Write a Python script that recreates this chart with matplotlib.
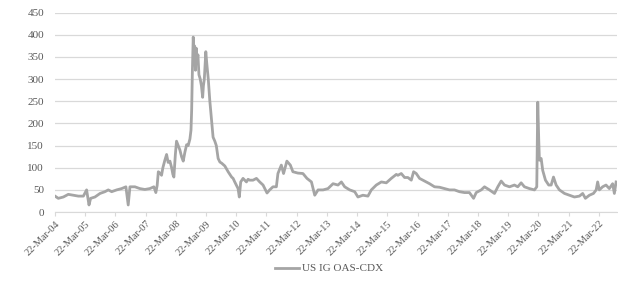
import pandas as pd
import matplotlib
matplotlib.use("Agg")
import matplotlib.pyplot as plt
import matplotlib.dates as mdates

plt.rcParams['font.family'] = ['Liberation Serif', 'DejaVu Serif']

# US IG OAS-CDX, bp
dates = [
    "2004-03-22", "2004-05-01", "2004-07-01", "2004-08-30", "2004-10-30", "2004-12-29",
    "2005-02-28", "2005-04-08", "2005-05-07", "2005-05-27", "2005-07-18", "2005-09-17",
    "2005-11-16", "2005-12-26", "2006-02-05", "2006-04-06", "2006-06-05", "2006-07-27",
    "2006-08-24", "2006-09-14", "2006-11-13", "2007-01-12", "2007-03-13", "2007-05-12",
    "2007-06-30", "2007-07-24", "2007-08-09", "2007-08-23", "2007-09-11", "2007-10-01",
    "2007-10-17", "2007-11-10", "2007-12-01", "2007-12-20", "2008-01-10", "2008-01-31",
    "2008-02-15", "2008-02-27", "2008-03-16", "2008-03-30", "2008-04-19", "2008-05-10",
    "2008-05-30", "2008-06-19", "2008-07-09", "2008-07-30", "2008-08-18", "2008-09-08",
    "2008-09-21", "2008-09-29", "2008-10-08", "2008-10-18", "2008-10-26", "2008-11-04",
    "2008-11-14", "2008-11-23", "2008-12-02", "2008-12-14", "2008-12-26", "2009-01-11",
    "2009-01-25", "2009-02-09", "2009-02-18", "2009-03-01", "2009-03-13", "2009-03-19",
    "2009-03-31", "2009-04-18", "2009-05-06", "2009-05-27", "2009-06-15", "2009-07-06",
    "2009-07-24", "2009-08-15", "2009-09-05", "2009-09-29", "2009-11-04", "2009-12-14",
    "2010-01-25", "2010-02-12", "2010-03-04", "2010-04-13", "2010-04-28", "2010-05-15",
    "2010-06-12", "2010-07-03", "2010-07-23", "2010-08-12", "2010-09-01", "2010-10-11",
    "2010-11-21", "2010-12-31", "2011-02-09", "2011-03-29",
    "2011-04-30", "2011-06-09", "2011-07-20", "2011-08-08", "2011-09-18", "2011-10-15",
    "2011-11-24", "2012-01-05", "2012-02-05", "2012-04-05", "2012-06-05", "2012-07-24",
    "2012-09-16", "2012-10-26", "2012-12-05", "2013-02-04", "2013-04-04", "2013-06-04",
    "2013-08-03", "2013-09-13", "2013-10-23", "2013-12-23", "2014-02-21", "2014-04-01",
    "2014-05-31", "2014-07-31", "2014-09-10", "2014-11-09", "2015-01-09", "2015-03-10",
    "2015-05-09", "2015-07-09", "2015-07-28", "2015-09-07", "2015-10-17", "2015-11-26",
    "2016-01-06", "2016-02-03", "2016-03-06", "2016-04-15", "2016-05-25", "2016-07-05",
    "2016-08-14", "2016-10-13", "2016-12-13", "2017-02-11", "2017-04-12", "2017-06-11",
    "2017-08-10", "2017-10-10", "2017-12-09", "2018-01-28", "2018-03-01", "2018-04-30",
    "2018-06-09", "2018-08-08", "2018-10-08", "2018-11-17", "2018-12-28", "2019-02-06",
    "2019-04-07", "2019-06-06", "2019-07-16", "2019-08-26", "2019-10-05", "2019-12-04",
    "2020-02-03", "2020-03-02", "2020-03-14", "2020-03-26", "2020-04-03", "2020-04-24",
    "2020-05-13", "2020-06-15", "2020-07-24", "2020-08-23", "2020-09-20", "2020-10-22",
    "2020-12-01", "2021-01-31", "2021-04-01", "2021-05-31", "2021-07-30", "2021-09-08",
    "2021-10-11", "2021-11-28", "2022-01-16", "2022-02-18", "2022-03-08", "2022-03-28",
    "2022-05-07", "2022-06-17", "2022-07-27", "2022-09-05", "2022-09-26", "2022-10-17",
]
spread = [
    36, 31, 34, 40, 38, 36,
    36, 50, 16, 31, 34, 42,
    46, 50, 46, 50, 53, 57,
    16, 57, 57, 53, 51, 53,
    57, 44, 60, 91, 88, 83,
    100, 117, 130, 112, 115, 100,
    85, 79, 130, 160, 150, 140,
    125, 115, 135, 152, 150, 165,
    185, 230, 320, 395, 360, 375,
    320, 370, 340, 355, 310, 300,
    285, 259, 285, 300, 340, 362,
    335, 300, 252, 207, 169, 160,
    150, 121, 113, 110, 104, 91,
    79, 76, 68, 53, 34, 68,
    76, 72, 68, 74, 72, 72,
    76, 68, 61, 43,
    50, 57, 57, 87, 106, 87,
    115, 106, 91, 88, 87, 76,
    68, 38, 50, 50, 53, 64,
    61, 68, 57, 50, 46, 34,
    38, 36, 50, 61, 68, 66,
    76, 85, 83, 87, 78, 78,
    72, 91, 87, 76, 72, 68,
    64, 57, 56, 53, 50, 50,
    46, 44, 44, 31, 44, 50,
    57, 50, 42, 57, 70, 61,
    57, 61, 57, 66, 57, 53,
    50, 57, 248, 162, 117, 121,
    94, 72, 61, 61, 79, 61,
    50, 42, 38, 34, 36, 42,
    31, 38, 42, 50, 68, 50,
    57, 61, 53, 64, 42, 68,
]
tick_years = list(range(2004, 2023))
series_name = "US IG OAS-CDX"

x = pd.to_datetime(dates)
ticks = pd.to_datetime([f"{y}-03-22" for y in tick_years])

fig = plt.figure(figsize=(6.18, 2.82), dpi=100)
ax = fig.add_axes([0.089, 0.248, 0.909, 0.707])

ax.plot(x, spread, color='#A5A5A5', lw=2.0, label=series_name)

ax.set_ylim(0, 450)
ax.set_yticks(range(0, 451, 50))
ax.set_xlim(pd.Timestamp("2004-03-22"), pd.Timestamp("2022-10-25"))
ax.set_xticks(ticks)
ax.xaxis.set_major_formatter(mdates.DateFormatter("%d-%b-%y"))

ax.grid(axis='y', color='#D9D9D9', lw=0.9)
ax.set_axisbelow(True)
for s in ['top', 'right', 'left']:
    ax.spines[s].set_visible(False)
ax.spines['bottom'].set_color('#D9D9D9')
ax.tick_params(axis='y', length=0, pad=8, labelsize=8, labelcolor='#595959')
ax.tick_params(axis='x', length=3, color='#D9D9D9', pad=2, labelsize=7.5, labelcolor='#595959')
for lab in ax.get_xticklabels():
    lab.set_rotation(45)
    lab.set_ha('right')
    lab.set_rotation_mode('anchor')

fig.legend(loc='lower center', bbox_to_anchor=(0.532, -0.005), frameon=False,
           fontsize=8, handlelength=2.2, handletextpad=0.2, labelcolor='#595959')

fig.savefig("out.png", dpi=100)
